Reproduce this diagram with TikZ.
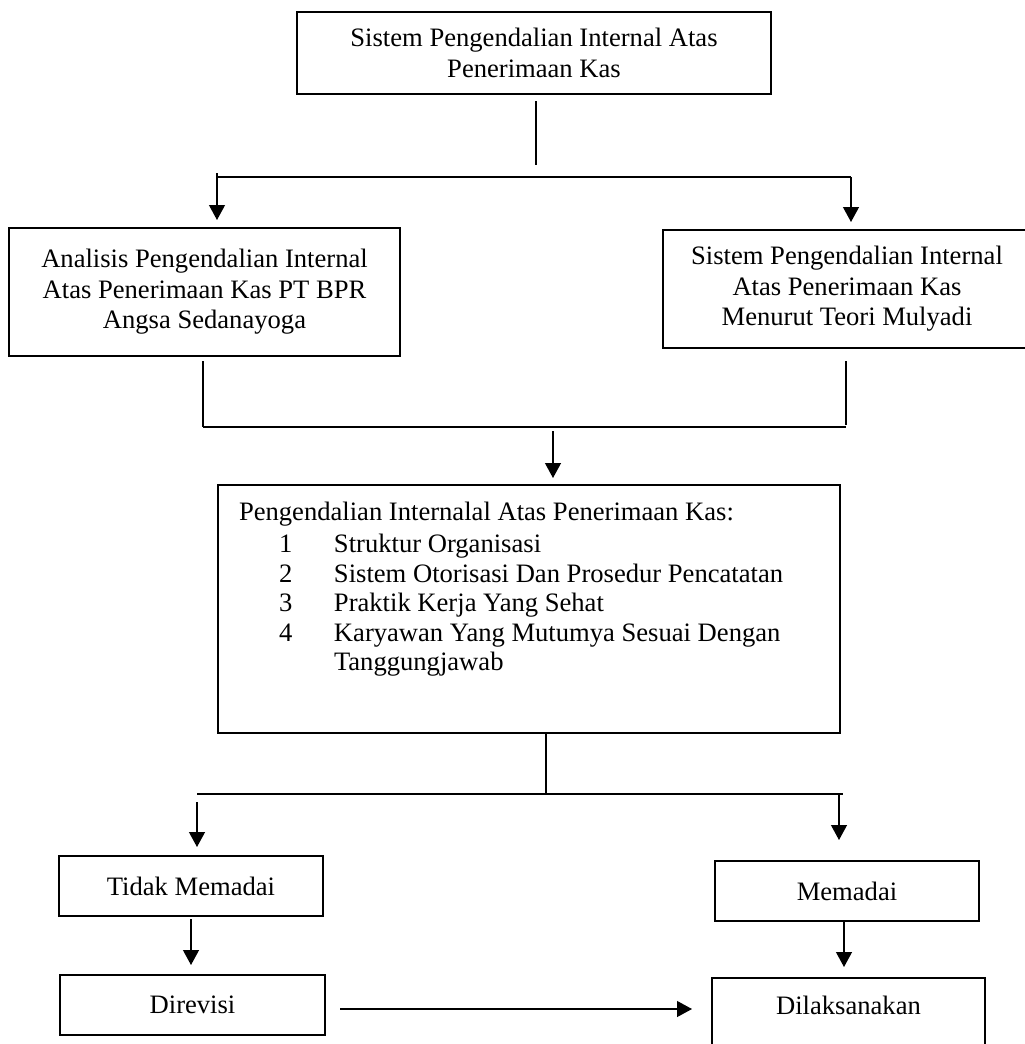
\documentclass[tikz,border=0pt]{standalone}
\usepackage{fontspec}
\setmainfont{Liberation Serif}
\usetikzlibrary{arrows.meta,calc}
\begin{document}
\begin{tikzpicture}[x=1pt,y=-1pt,
  frame/.style={draw, line width=2pt},
  box/.style={frame, inner sep=4pt, align=center,
    font=\fontsize{26.6}{30.5}\selectfont},
  link/.style={line width=1.2pt},
  arr/.style={link, -{Triangle[length=15pt,width=16pt]}}]
\useasboundingbox (0,0) rectangle (1025,1044);

% boxes
\node[box, minimum width=474pt, minimum height=82pt] (top) at (534,53)
  {Sistem Pengendalian Internal Atas\\Penerimaan Kas};
\node[box, minimum width=391pt, minimum height=128pt] (ana) at (204.5,292)
  {Analisis Pengendalian Internal\\Atas Penerimaan Kas PT BPR\\Angsa Sedanayoga};
\node[box, minimum width=368pt, minimum height=118pt] (teori) at (847,289)
  {Sistem Pengendalian Internal\\Atas Penerimaan Kas\\Menurut Teori Mulyadi};
% the list box: text set from the top of a fixed-height block
\node[frame, anchor=north west, inner xsep=21pt, inner ysep=14pt,
  font=\fontsize{26.6}{29.5}\selectfont] (kom) at (217,484)
  {\vbox to 220pt{\hsize=580pt \parindent=0pt \parskip=0pt \raggedright
   \strut\vrule height 21.5pt width 0pt Pengendalian Internalal Atas Penerimaan Kas:\par
   \vspace{2.5pt}
   \hspace*{40pt}\makebox[55pt][l]{1}Struktur Organisasi\par
   \hspace*{40pt}\makebox[55pt][l]{2}Sistem Otorisasi Dan Prosedur Pencatatan\par
   \hspace*{40pt}\makebox[55pt][l]{3}Praktik Kerja Yang Sehat\par
   \hspace*{40pt}\makebox[55pt][l]{4}Karyawan Yang Mutumya Sesuai Dengan\par
   \hspace*{95pt}Tanggungjawab\par
   \vfill}};
\node[box, minimum width=264pt, minimum height=60pt] (tidak) at (191,886) {Tidak Memadai};
\node[box, minimum width=264pt, minimum height=60pt] (memadai) at (847,891) {Memadai};
\node[box, minimum width=265pt, minimum height=60pt] (revisi) at (192.5,1005) {Direvisi};
\node[box, anchor=north, minimum width=273pt, inner ysep=18pt,
  font=\fontsize{26.6}{30}\selectfont] (laksana) at (848.5,977) {Dilaksanakan\\\strut};

% branch points
\coordinate (s1) at (536,165);
\coordinate (b1l) at (217,177);
\coordinate (b1r) at (851,177);
\coordinate (b2l) at (203,427);
\coordinate (b2r) at (846,427);
\coordinate (b2m) at (553,427);
\coordinate (b3m) at (546,794);
\coordinate (b3l) at (197,794);
\coordinate (b3r) at (843,794);
\coordinate (b3a) at (839,794);
\coordinate (mx) at (844,0);
\coordinate (rv) at (340,1009);

% connectors
\draw[link, shorten <=6pt] (top.south -| s1) -- (s1);
\draw[link] (b1l) -- (b1r);
\draw[arr, shorten <=-4pt, shorten >=7pt] (b1l) -- (b1l |- ana.north);
\draw[arr, shorten >=7pt] (b1r) -- (b1r |- teori.north);

\draw[link, shorten <=4pt] (b2l |- ana.south) -- (b2l);
\draw[link, shorten <=12pt, shorten >=2pt] (b2r |- teori.south) -- (b2r);
\draw[link] (b2l) -- (b2r);
\draw[arr, shorten <=4pt, shorten >=6pt] (b2m) -- (b2m |- kom.north);

\draw[link] (b3m |- kom.south) -- (b3m);
\draw[link] (b3l) -- (b3r);
\draw[arr, shorten <=8pt, shorten >=8pt] (b3l) -- (b3l |- tidak.north);
\draw[arr, shorten >=20pt] (b3a) -- (b3a |- memadai.north);

\draw[arr, shorten <=2pt, shorten >=9pt] (tidak.south) -- (tidak.south |- revisi.north);
\draw[arr, shorten >=10pt] (memadai.south -| mx) -- (laksana.north -| mx);
\draw[arr, shorten >=19pt] (rv) -- (rv -| laksana.west);
\end{tikzpicture}
\end{document}
